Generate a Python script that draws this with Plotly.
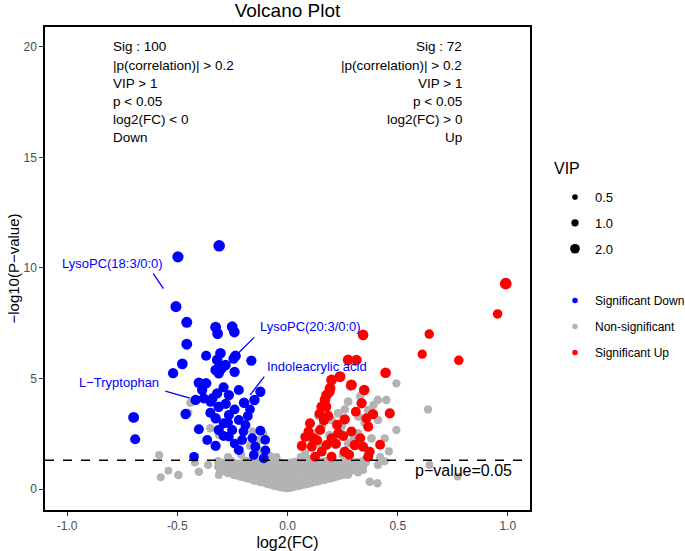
import math
import plotly.graph_objects as go

# ---------------- data ----------------
down_x = [-0.310, -0.497, -0.506, -0.457, -0.326, -0.317, -0.251, -0.241, -0.457, -0.477,
          -0.519, -0.369, -0.304, -0.319, -0.281, -0.300, -0.326, -0.312, -0.236, -0.245,
          -0.164, -0.402, -0.369, -0.387, -0.319, -0.266, -0.221, -0.123, -0.150, -0.197,
          -0.417, -0.349, -0.312, -0.698, -0.462, -0.326, -0.266, -0.221, -0.191, -0.402,
          -0.312, -0.251, -0.123, -0.691, -0.364, -0.326, -0.266, -0.221, -0.146, -0.101,
          -0.108, -0.153, -0.424, -0.206, -0.289, -0.290, -0.340, -0.280, -0.240, -0.180,
          -0.270, -0.200, -0.160, -0.350, -0.290, -0.240, -0.100, -0.380, -0.170, -0.240]
down_y = [11.00, 10.50, 8.25, 7.54, 7.32, 7.03, 7.34, 7.10, 6.55, 5.66,
          5.24, 6.03, 6.14, 5.84, 5.61, 5.45, 5.38, 5.24, 6.02, 5.90,
          5.81, 4.81, 4.78, 4.48, 4.33, 4.25, 4.48, 4.40, 4.03, 3.90,
          4.03, 3.95, 3.72, 3.24, 3.39, 3.20, 3.35, 3.12, 2.90, 2.70,
          2.67, 2.67, 2.64, 2.25, 2.22, 1.95, 2.37, 1.76, 1.91, 2.22,
          1.39, 1.54, 1.46, 2.22, 2.97, 4.60, 4.10, 3.85, 3.60, 3.30,
          3.00, 2.60, 2.30, 3.45, 2.40, 2.05, 1.75, 4.10, 3.60, 5.30]
down_vip = [3.0, 2.8, 2.7, 2.7, 2.6, 2.5, 2.6, 2.5, 2.6, 2.5,
            2.3, 2.2, 2.5, 2.5, 2.4, 2.5, 2.4, 2.4, 2.5, 2.3,
            2.3, 2.4, 2.4, 2.3, 2.3, 2.3, 2.2, 2.3, 2.4, 2.4,
            2.3, 2.3, 2.4, 2.6, 2.4, 2.3, 2.2, 2.1, 2.1, 2.1,
            2.3, 2.2, 2.1, 2.2, 2.1, 2.2, 2.1, 2.1, 2.1, 2.0,
            2.1, 2.0, 2.0, 2.1, 2.2, 2.2, 2.2, 2.2, 2.1, 2.1,
            2.1, 2.0, 2.0, 2.2, 2.1, 2.0, 2.0, 2.2, 2.0, 2.3]

up_x = [0.990, 0.953, 0.643, 0.611, 0.777, 0.343, 0.445, 0.275, 0.313, 0.200,
        0.238, 0.290, 0.193, 0.348, 0.177, 0.170, 0.336, 0.155, 0.175, 0.388,
        0.464, 0.260, 0.358, 0.366, 0.102, 0.148, 0.230, 0.117, 0.200, 0.253,
        0.065, 0.110, 0.177, 0.305, 0.343, 0.155, 0.260, 0.366, 0.125, 0.200,
        0.095, 0.220, 0.135, 0.290, 0.185, 0.145, 0.310, 0.225, 0.080, 0.280,
        0.330, 0.420, 0.190, 0.165, 0.373]
up_y = [9.29, 7.92, 7.01, 6.10, 5.82, 6.97, 5.26, 5.84, 5.84, 4.93,
        5.08, 4.71, 4.56, 4.48, 4.25, 4.03, 3.88, 3.72, 3.72, 3.39,
        3.42, 3.15, 3.20, 2.82, 2.97, 2.67, 2.52, 2.29, 2.29, 2.40,
        1.95, 1.91, 1.99, 1.99, 1.91, 1.69, 1.69, 1.46, 1.46, 1.46,
        2.60, 2.05, 2.20, 2.60, 3.30, 3.40, 3.50, 2.90, 2.35, 1.55,
        2.30, 2.00, 4.40, 3.10, 1.69]
up_vip = [3.1, 1.9, 1.9, 1.8, 1.9, 2.5, 2.5, 2.5, 2.4, 2.6,
          2.7, 2.6, 2.5, 2.5, 2.5, 2.5, 2.3, 2.5, 2.4, 2.3,
          2.2, 2.3, 2.2, 2.2, 2.2, 2.2, 2.3, 2.2, 2.3, 2.2,
          2.2, 2.1, 2.2, 2.3, 2.2, 2.1, 2.3, 2.2, 2.1, 2.1,
          2.1, 2.1, 2.1, 2.1, 2.2, 2.1, 2.1, 2.2, 2.0, 2.1,
          2.1, 2.1, 2.4, 2.1, 2.1]

ns_x = [-0.305, -0.300, -0.272, -0.268, -0.275, -0.242, -0.238, -0.245, -0.212, -0.208,
        -0.215, -0.182, -0.178, -0.185, -0.180, -0.152, -0.148, -0.155, -0.150, -0.122,
        -0.118, -0.125, -0.120, -0.092, -0.088, -0.095, -0.090, -0.087, -0.062, -0.058,
        -0.065, -0.060, -0.057, -0.032, -0.028, -0.035, -0.030, -0.027, -0.002, 0.002,
        -0.004, 0.001, 0.004, 0.028, 0.032, 0.026, 0.030, 0.033, 0.058, 0.062,
        0.056, 0.060, 0.063, 0.088, 0.092, 0.086, 0.090, 0.118, 0.122, 0.116,
        0.120, 0.148, 0.152, 0.146, 0.150, 0.178, 0.182, 0.176, 0.180, 0.208,
        0.212, 0.206, 0.238, 0.242, 0.236, 0.268, 0.272, 0.300, -0.270, -0.200,
        -0.135, -0.075, -0.015, 0.045, 0.105, 0.165, 0.225, 0.255, -0.225, -0.165,
        0.195, -0.582, -0.575, -0.540, -0.495, -0.402, -0.360, -0.312, -0.420, 0.410,
        0.343, 0.373, 0.408, 0.275, 0.644, 0.772, 0.320, 0.355, 0.440, -0.440,
        -0.450, -0.350, -0.310, -0.160, -0.130, -0.110, -0.170, -0.130, -0.210, -0.270,
        -0.080, -0.050, 0.494, 0.448, 0.410, 0.366, 0.321, 0.494, 0.441, 0.381,
        0.275, 0.283, 0.230, 0.200, 0.155, 0.125, 0.110, 0.155, 0.215, 0.275,
        0.336, 0.366, 0.080, 0.177, 0.245, 0.321, 0.410, 0.637, 0.350, 0.300,
        0.190, 0.060, 0.100, 0.250, 0.420, 0.460, 0.140, 0.260, 0.390, 0.330,
        -0.315, -0.315, -0.285, -0.285, -0.255, -0.255, -0.255, -0.225, -0.225, -0.225,
        -0.195, -0.195, -0.195, -0.195, -0.165, -0.165, -0.165, -0.165, -0.135, -0.135,
        -0.135, -0.135, -0.105, -0.105, -0.105, -0.105, -0.105, -0.075, -0.075, -0.075,
        -0.075, -0.075, -0.045, -0.045, -0.045, -0.045, -0.045, -0.015, -0.015, -0.015,
        -0.015, -0.015, 0.015, 0.015, 0.015, 0.015, 0.015, 0.045, 0.045, 0.045,
        0.045, 0.075, 0.075, 0.075, 0.075, 0.075, 0.105, 0.105, 0.105, 0.105,
        0.135, 0.135, 0.135, 0.135, 0.165, 0.165, 0.165, 0.165, 0.195, 0.195,
        0.195, 0.195, 0.225, 0.225, 0.225, 0.255, 0.255, 0.255, 0.285, 0.285,
        0.315, 0.315, 0.345, 0.345]
ns_y = [0.85, 1.15, 0.72, 1.00, 1.25, 0.62, 0.90, 1.18, 0.55, 0.83,
        1.10, 0.47, 0.75, 1.02, 1.27, 0.37, 0.65, 0.95, 1.22, 0.30,
        0.58, 0.86, 1.12, 0.21, 0.48, 0.78, 1.05, 1.28, 0.13, 0.40,
        0.70, 0.98, 1.24, 0.06, 0.35, 0.62, 0.90, 1.18, 0.02, 0.30,
        0.58, 0.88, 1.15, 0.08, 0.36, 0.65, 0.95, 1.22, 0.15, 0.42,
        0.72, 1.00, 1.27, 0.22, 0.50, 0.80, 1.08, 0.30, 0.58, 0.86,
        1.15, 0.37, 0.65, 0.93, 1.20, 0.45, 0.72, 1.00, 1.26, 0.52,
        0.80, 1.08, 0.60, 0.88, 1.17, 0.94, 1.22, 1.05, 0.86, 0.68,
        0.45, 0.28, 0.18, 0.25, 0.38, 0.55, 0.72, 1.05, 0.98, 0.88,
        0.92, 1.54, 0.53, 0.83, 0.63, 0.78, 1.09, 0.63, 1.20, 1.09,
        0.86, 0.33, 0.26, 0.64, 1.09, 0.56, 0.75, 1.20, 1.25, 3.90,
        3.45, 2.75, 2.45, 2.60, 2.20, 2.50, 1.95, 1.75, 1.55, 1.45,
        1.50, 1.45, 4.78, 4.03, 4.03, 3.57, 3.27, 2.67, 2.29, 2.29,
        3.95, 4.63, 3.42, 3.12, 2.82, 2.52, 2.07, 1.91, 1.99, 2.07,
        1.91, 1.61, 1.61, 3.12, 2.82, 2.52, 3.12, 3.60, 3.00, 2.30,
        2.45, 1.45, 1.35, 1.55, 1.45, 1.70, 3.30, 3.60, 3.80, 4.20,
        1.00, 1.25, 0.80, 1.10, 0.70, 0.98, 1.26, 0.60, 0.86, 1.14,
        0.52, 0.78, 1.05, 1.28, 0.44, 0.70, 1.00, 1.25, 0.35, 0.62,
        0.90, 1.17, 0.27, 0.52, 0.80, 1.08, 1.30, 0.18, 0.45, 0.72,
        1.00, 1.26, 0.10, 0.38, 0.66, 0.94, 1.20, 0.04, 0.32, 0.60,
        0.86, 1.14, 0.04, 0.32, 0.60, 0.90, 1.18, 0.11, 0.50, 0.80,
        1.10, 0.18, 0.46, 0.75, 1.05, 1.30, 0.26, 0.54, 0.82, 1.12,
        0.33, 0.61, 0.90, 1.18, 0.40, 0.68, 0.96, 1.24, 0.48, 0.76,
        1.04, 1.28, 0.56, 0.84, 1.12, 0.64, 0.82, 1.20, 0.80, 1.10,
        0.90, 1.22, 1.10, 1.28]
ns_vip = [1.4, 1.5, 1.3, 1.4, 1.5, 1.3, 1.4, 1.5, 1.3, 1.4,
          1.5, 1.2, 1.3, 1.4, 1.5, 1.2, 1.3, 1.4, 1.5, 1.2,
          1.3, 1.4, 1.5, 1.1, 1.3, 1.3, 1.4, 1.5, 1.1, 1.2,
          1.3, 1.4, 1.4, 1.1, 1.2, 1.3, 1.3, 1.4, 1.1, 1.2,
          1.3, 1.3, 1.4, 1.1, 1.2, 1.3, 1.3, 1.4, 1.1, 1.2,
          1.3, 1.4, 1.4, 1.2, 1.2, 1.3, 1.4, 1.2, 1.3, 1.3,
          1.4, 1.2, 1.3, 1.4, 1.4, 1.3, 1.3, 1.4, 1.5, 1.3,
          1.4, 1.4, 1.3, 1.4, 1.5, 1.4, 1.5, 1.4, 1.4, 1.3,
          1.2, 1.2, 1.1, 1.2, 1.2, 1.3, 1.3, 1.4, 1.4, 1.3,
          1.3, 1.3, 1.2, 1.2, 1.5, 1.5, 1.4, 1.2, 1.3, 1.3,
          1.3, 1.5, 1.4, 1.3, 1.2, 1.2, 1.3, 1.3, 1.3, 1.5,
          1.4, 1.4, 1.5, 1.4, 1.5, 1.4, 1.3, 1.3, 1.3, 1.3,
          1.3, 1.3, 1.4, 1.5, 1.5, 1.6, 1.5, 1.4, 1.4, 1.5,
          1.6, 1.6, 1.6, 1.5, 1.5, 1.5, 1.4, 1.5, 1.4, 1.5,
          1.4, 1.3, 1.3, 1.5, 1.5, 1.5, 1.5, 1.4, 1.5, 1.4,
          1.4, 1.3, 1.3, 1.3, 1.3, 1.3, 1.5, 1.5, 1.4, 1.5,
          1.4, 1.5, 1.3, 1.4, 1.3, 1.4, 1.5, 1.3, 1.4, 1.5,
          1.2, 1.3, 1.4, 1.5, 1.2, 1.3, 1.4, 1.5, 1.2, 1.3,
          1.4, 1.5, 1.1, 1.3, 1.4, 1.4, 1.5, 1.1, 1.2, 1.3,
          1.4, 1.5, 1.1, 1.2, 1.3, 1.4, 1.5, 1.1, 1.2, 1.3,
          1.4, 1.5, 1.1, 1.2, 1.3, 1.4, 1.5, 1.1, 1.3, 1.4,
          1.5, 1.1, 1.2, 1.3, 1.4, 1.5, 1.2, 1.3, 1.4, 1.5,
          1.2, 1.3, 1.4, 1.5, 1.2, 1.3, 1.4, 1.5, 1.3, 1.4,
          1.4, 1.5, 1.3, 1.4, 1.5, 1.3, 1.4, 1.5, 1.3, 1.4,
          1.3, 1.4, 1.3, 1.4]

p_threshold = 0.05
x_tick_vals = [-1.0, -0.5, 0.0, 0.5, 1.0]
x_tick_labels = ["-1.0", "-0.5", "0.0", "0.5", "1.0"]
y_tick_vals = [0, 5, 10, 15, 20]
y_tick_labels = ["0", "5", "10", "15", "20"]

vip_legend_values = [0.5, 1.0, 2.0]
vip_legend_labels = ["0.5", "1.0", "2.0"]
group_names = ["Significant Down", "Non-significant", "Significant Up"]

down_text = ["Sig : 100", "|p(correlation)| > 0.2", "VIP > 1", "p < 0.05", "log2(FC) < 0", "Down"]
up_text = ["Sig : 72", "|p(correlation)| > 0.2", "VIP > 1", "p < 0.05", "log2(FC) > 0", "Up"]

label_names = ["LysoPC(18:3/0:0)", "LysoPC(20:3/0:0)", "Indoleacrylic acid", "L\u2212Tryptophan"]
label_index = [2, 18, 29, 30]   # index into the down_* arrays

# ---------------- styling ----------------
COL_DOWN = "#0000FF"
COL_NS = "#B3B3B3"
COL_UP = "#FF0000"
FONT = "Liberation Sans, Arial, Helvetica, sans-serif"

W, H = 685, 551
ML, MR, MT, MB = 45, 155, 27, 41
PW, PH = W - ML - MR, H - MT - MB


def vip_size(v):
    return 1.5 + 5.8 * math.sqrt(v)


def px_to_paper_y(py):
    return (H - MB - py) / PH


def px_to_paper_x(px):
    return (px - ML) / PW


fig = go.Figure()
for xs, ys, vs, col in [(ns_x, ns_y, ns_vip, COL_NS),
                        (down_x, down_y, down_vip, COL_DOWN),
                        (up_x, up_y, up_vip, COL_UP)]:
    fig.add_trace(go.Scatter(
        x=xs, y=ys, mode="markers", showlegend=False, hoverinfo="x+y",
        marker=dict(color=col, size=[vip_size(v) for v in vs], line=dict(width=0), opacity=1),
    ))

# size legend (VIP)
for i, (v, lab) in enumerate(zip(vip_legend_values, vip_legend_labels)):
    fig.add_trace(go.Scatter(
        x=[None], y=[None], mode="markers", name=lab, legend="legend",
        legendgroup="vip%d" % i,
        marker=dict(color="black", size=vip_size(v), line=dict(width=0)),
    ))
# colour legend
for name, col in zip(group_names, [COL_DOWN, COL_NS, COL_UP]):
    fig.add_trace(go.Scatter(
        x=[None], y=[None], mode="markers", name=name, legend="legend2",
        legendgroup=name,
        marker=dict(color=col, size=5.5, line=dict(width=0)),
    ))

thr = -math.log10(p_threshold)
shapes = [dict(type="line", xref="paper", yref="y", x0=0, x1=1, y0=thr, y1=thr,
               line=dict(color="black", width=1.5, dash="dash"), layer="above")]

annotations = []
step = 0.82
for i, t in enumerate(down_text):
    annotations.append(dict(x=-0.8, y=20 - i * step, xref="x", yref="y", text=t.replace("<", "&lt;"),
                            showarrow=False, xanchor="left", yanchor="middle",
                            font=dict(size=13.5, color="black", family=FONT)))
for i, t in enumerate(up_text):
    annotations.append(dict(x=0.8, y=20 - i * step, xref="x", yref="y", text=t.replace("<", "&lt;"),
                            showarrow=False, xanchor="right", yanchor="middle",
                            font=dict(size=13.5, color="black", family=FONT)))

annotations.append(dict(x=0.8, y=0.85, xref="x", yref="y", text="p\u2212value=0.05",
                        showarrow=False, xanchor="center", yanchor="middle",
                        font=dict(size=16, color="black", family=FONT)))

# size-legend title
annotations.append(dict(x=px_to_paper_x(552), y=px_to_paper_y(168), xref="paper", yref="paper",
                        text="VIP", showarrow=False, xanchor="left", yanchor="middle",
                        font=dict(size=16, color="black", family=FONT)))

# label text offsets (px) and leader segment geometry (px)
text_shift = [(-63.5, 42.7), (75.3, 29.0), (72.7, 36.7), (-76.7, 17.0)]
seg_tail = [(-23.7, -34.4), (20.3, -20.0), (21.4, -27.7), (-31.7, -9.3)]
seg_standoff = [22, 2, 10, 6]
for name, idx, (sx, sy), (ax, ay), so in zip(label_names, label_index, text_shift, seg_tail, seg_standoff):
    px, py = down_x[idx], down_y[idx]
    annotations.append(dict(x=px, y=py, xref="x", yref="y", text=name, showarrow=False,
                            xshift=sx, yshift=sy, xanchor="center", yanchor="middle",
                            font=dict(size=13, color=COL_DOWN, family=FONT)))
    annotations.append(dict(x=px, y=py, xref="x", yref="y", text="", showarrow=True,
                            ax=ax, ay=ay, arrowhead=0, arrowwidth=1.3, arrowcolor=COL_DOWN,
                            standoff=so))

fig.update_layout(
    template="none",
    width=W, height=H,
    margin=dict(l=ML, r=MR, t=MT, b=MB, autoexpand=False),
    paper_bgcolor="white", plot_bgcolor="white",
    font=dict(family=FONT, color="black"),
    title=dict(text="Volcano Plot", x=0.5, xref="paper", xanchor="center",
               y=1 - 10 / H, yref="container", yanchor="middle",
               font=dict(size=19, color="black", family=FONT)),
    xaxis=dict(range=[-1.1, 1.1], tickvals=x_tick_vals, ticktext=x_tick_labels,
               automargin=False,
               showgrid=False, zeroline=False, showline=True, mirror=True,
               linecolor="black", linewidth=1.5, ticks="outside", ticklen=4,
               tickcolor="#333333", tickwidth=1,
               tickfont=dict(size=12, color="#4D4D4D", family=FONT),
               title=dict(text="log2(FC)", font=dict(size=16, color="black", family=FONT), standoff=6)),
    yaxis=dict(range=[-0.95, 20.9], tickvals=y_tick_vals, ticktext=y_tick_labels,
               automargin=False,
               showgrid=False, zeroline=False, showline=True, mirror=True,
               linecolor="black", linewidth=1.5, ticks="outside", ticklen=4,
               tickcolor="#333333", tickwidth=1,
               tickfont=dict(size=12, color="#4D4D4D", family=FONT),
               title=dict(text="\u2212log10(P\u2212value)", font=dict(size=15, color="black", family=FONT), standoff=0)),
    legend=dict(x=px_to_paper_x(555), xanchor="left", y=px_to_paper_y(182), yanchor="top",
                itemsizing="trace", tracegroupgap=6, bgcolor="rgba(0,0,0,0)",
                font=dict(size=13, color="black", family=FONT)),
    legend2=dict(x=px_to_paper_x(555), xanchor="left", y=px_to_paper_y(286), yanchor="top",
                 itemsizing="trace", tracegroupgap=7, bgcolor="rgba(0,0,0,0)",
                 font=dict(size=12, color="black", family=FONT)),
    shapes=shapes,
    annotations=annotations,
)

# remove the default 8px page margin so the figure sits at the window's top-left corner
fig.write_html("out.html", config={"displayModeBar": False},
               post_script="document.body.style.margin='0';")
